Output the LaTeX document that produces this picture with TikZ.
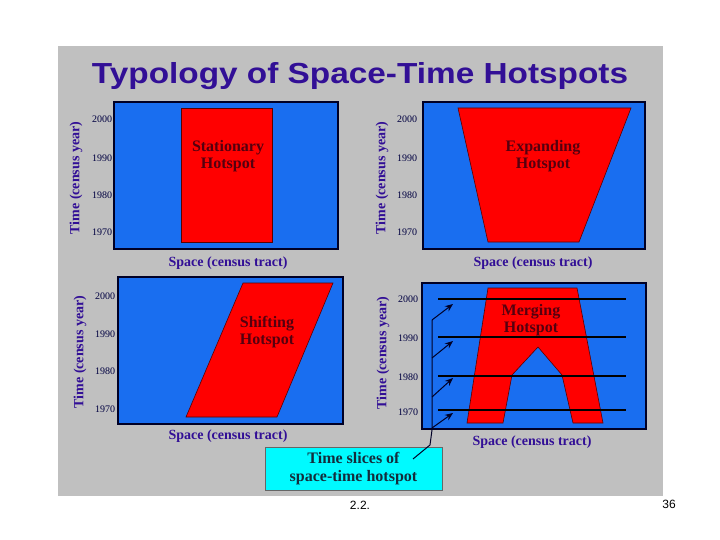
\documentclass[tikz,border=0pt]{standalone}
\usepackage{fontspec}
\setmainfont{Liberation Serif}
\setsansfont{Liberation Sans}
\usetikzlibrary{arrows.meta,positioning}

\definecolor{slidegray}{RGB}{192,192,192}
\definecolor{panelblue}{RGB}{25,110,240}
\definecolor{titleink}{RGB}{50,15,150}
\definecolor{spotink}{RGB}{85,0,15}
\definecolor{calloutcyan}{RGB}{0,250,255}
\definecolor{calloutink}{RGB}{20,45,60}

\begin{document}
\begin{tikzpicture}[x=1pt,y=-1pt,>=Stealth,
    panel/.style={fill=panelblue,draw=black!85!blue,line width=1.6pt},
    spot/.style={fill=red,draw=red!35!black,line width=0.6pt},
    spotlabel/.style={font=\bfseries\fontsize{16}{17}\selectfont,
      text=spotink,align=center},
    axislabel/.style={font=\bfseries\fontsize{14}{15}\selectfont,text=titleink},
    ticklabel/.style={font=\fontsize{10}{11}\selectfont,text=black!75!blue},
    slice/.style={black,line width=1.1pt},
    leader/.style={black!85!blue,line width=1pt},
    callout/.style={fill=calloutcyan,draw=black!60,line width=0.5pt,
      minimum width=177pt,minimum height=43pt,inner sep=0pt,align=center,
      font=\bfseries\fontsize{16}{18}\selectfont,text=calloutink}]
  \useasboundingbox[fill=white] (0,0) rectangle (720,540);
  \fill[slidegray] (58,46) rectangle (663,496);

  \node[font=\sffamily\bfseries\fontsize{29}{30}\selectfont,text=titleink,
    anchor=base,xscale=1.15,transform shape] (title) at (360,84)
    {Typology of Space-Time Hotspots};

  % stationary hotspot
  \draw[panel] (114,102) rectangle (338,249);
  \draw[spot] (181,108) rectangle (272,242);
  \node[spotlabel] (stationary) at (228,156) {Stationary\\Hotspot};
  \node[axislabel,rotate=90] (timeA) at (76,178) {Time (census year)};
  \node[axislabel] (spaceA) at (228,263) {Space (census tract)};
  \foreach \yr/\y in {2000/119,1990/158,1980/195,1970/232}
    \node[ticklabel] (tickA\yr) at (102,\y) {\yr};

  % expanding hotspot
  \draw[panel] (423,102) rectangle (645,249);
  \draw[spot] (458,108) -- (631,108) -- (579,242) -- (488,242) -- cycle;
  \node[spotlabel] (expanding) at (543,156) {Expanding\\Hotspot};
  \node[axislabel,rotate=90] (timeB) at (382,178) {Time (census year)};
  \node[axislabel] (spaceB) at (533,263) {Space (census tract)};
  \foreach \yr/\y in {2000/119,1990/158,1980/195,1970/232}
    \node[ticklabel] (tickB\yr) at (407,\y) {\yr};

  % shifting hotspot
  \draw[panel] (118,277) rectangle (343,424);
  \draw[spot] (243,283) -- (333,283) -- (277,417) -- (186,417) -- cycle;
  \node[spotlabel] (shifting) at (267,332) {Shifting\\Hotspot};
  \node[axislabel,rotate=90] (timeC) at (80,352) {Time (census year)};
  \node[axislabel] (spaceC) at (228,436) {Space (census tract)};
  \foreach \yr/\y in {2000/296,1990/334,1980/371,1970/409}
    \node[ticklabel] (tickC\yr) at (105,\y) {\yr};

  % merging hotspot
  \draw[panel] (422,283) rectangle (646,429);
  \draw[spot] (488,288) -- (577,288) -- (603,423) -- (573,423) -- (562,375)
    -- (538,347) -- (512,375) -- (503,423) -- (467,423) -- cycle;
  \node[spotlabel] (merging) at (531,320) {Merging\\Hotspot};
  \node[axislabel,rotate=90] (timeD) at (383,353) {Time (census year)};
  \node[axislabel] (spaceD) at (532,442) {Space (census tract)};
  \foreach \yr/\y in {2000/299,1990/338,1980/377,1970/412}
    \node[ticklabel] (tickD\yr) at (408,\y) {\yr};
  \foreach \y in {299,337,376,410}
    \draw[slice] (438,\y) -- (626,\y);

  % time slices callout
  \node[callout] (slices) at (353.5,468.5) {Time slices of\\space-time hotspot};
  \coordinate (leaderEnd) at (413,459);
  \coordinate (sliceFoot) at (430,445);
  \coordinate (sliceKnee) at (432,430);
  \coordinate (sliceTop) at (432,320);
  \draw[leader] (leaderEnd) -- (sliceFoot) -- (sliceKnee) -- (sliceTop);
  \foreach \ty/\hy [count=\i] in {320/304,358/341,397/378,428/413} {
    \coordinate (tail\i) at (432,\ty);
    \coordinate (head\i) at (453,\hy);
    \draw[leader,-{Stealth[length=8pt,width=6.5pt]}] (tail\i) -- (head\i);
  }

  \node[font=\sffamily\fontsize{12}{13}\selectfont] (slideno) at (360,505) {2.2.};
  \node[font=\sffamily\fontsize{12}{13}\selectfont] (pageno) at (669,504) {36};
\end{tikzpicture}
\end{document}
